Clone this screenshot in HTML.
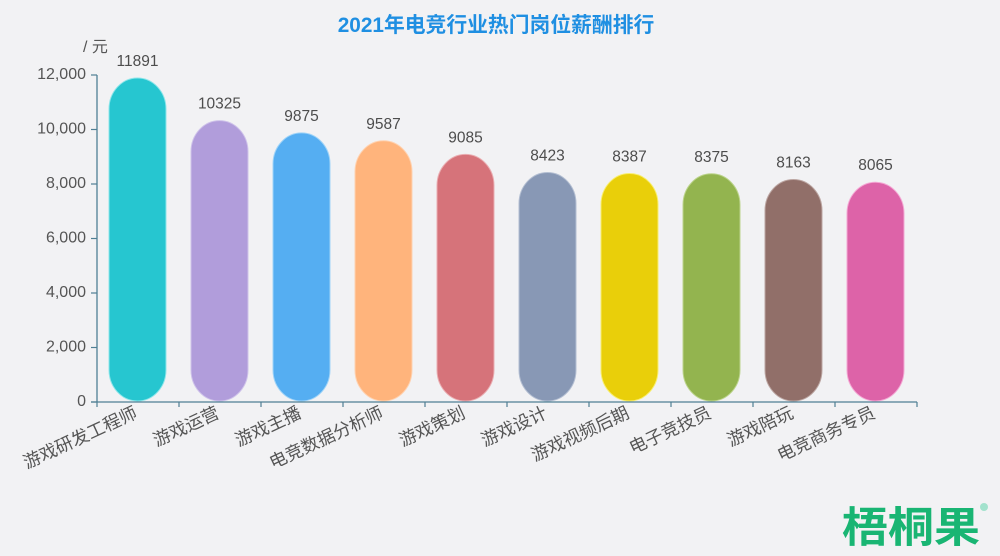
<!DOCTYPE html>
<html lang="zh">
<head>
<meta charset="utf-8">
<title>2021年电竞行业热门岗位薪酬排行</title>
<style>
html,body{margin:0;padding:0;background:#f2f2f4;}
#stage{position:relative;width:1000px;height:556px;overflow:hidden;background:#f2f2f4;}
svg{display:block;font-family:"Liberation Sans","Noto Sans CJK SC",sans-serif;filter:blur(0.35px);}
</style>
</head>
<body>
<div id="stage">
<svg id="chart" width="1000" height="556" viewBox="0 0 1000 556" xmlns="http://www.w3.org/2000/svg">
  <text x="496" y="32" text-anchor="middle" font-size="20.8" font-weight="700" fill="#1f8fe2">2021年电竞行业热门岗位薪酬排行</text>
  <text x="83" y="52" font-size="16" fill="#555">/ 元</text>
  <g id="bars"></g>
  <g id="axes"></g>
  <text x="842" y="542" font-size="42" font-weight="700" fill="#19b573" textLength="138" lengthAdjust="spacingAndGlyphs">梧桐果</text>
  <circle cx="984" cy="507" r="4" fill="#a3e2cd"></circle>
</svg>
</div>
<script>
const categories = ["游戏研发工程师","游戏运营","游戏主播","电竞数据分析师","游戏策划","游戏设计","游戏视频后期","电子竞技员","游戏陪玩","电竞商务专员"];
const salaries = [11891,10325,9875,9587,9085,8423,8387,8375,8163,8065];
const barColors = ["#26c6d0","#b19ddb","#55aef2","#ffb47c","#d6737a","#8898b5","#e9cf0a","#93b44f","#916f69","#dd63a8"];
const edgeColors = ["#8fe6ea","#cfc3ea","#a0d4f8","#ffd2b0","#eaaeb2","#b4bfd2","#f8ee70","#bcd48c","#bca6a2","#f4a8d4"];
const yTicks = [0,2000,4000,6000,8000,10000,12000];
const yTickLabels = ["0","2,000","4,000","6,000","8,000","10,000","12,000"];

const NS = "http://www.w3.org/2000/svg";
const plotLeft = 97, plotRight = 917, plotBottom = 402, plotTop = 75, yMax = 12000;
const barWidth = 57;
const axisColor = "#4f7f94";
const xBand = (plotRight - plotLeft) / categories.length;
const xAxis = i => plotLeft + xBand * i;
const xCenter = i => xAxis(i) + xBand / 2 - 0.5;
const yAxis = v => plotBottom - (v / yMax) * (plotBottom - plotTop);

function make(tag, attrs, parent, text) {
  const el = document.createElementNS(NS, tag);
  for (const k in attrs) el.setAttribute(k, attrs[k]);
  if (text !== undefined) el.textContent = text;
  parent.appendChild(el);
  return el;
}

const barsGroup = document.getElementById("bars");
const axesGroup = document.getElementById("axes");

salaries.forEach((v, i) => {
  const cx = xCenter(i), top = yAxis(v), bottom = plotBottom - 1;
  const bar = make("rect", {
    x: cx - barWidth / 2, y: top, width: barWidth, height: Math.max(0, bottom - top),
    rx: barWidth / 2, ry: 31, fill: barColors[i], stroke: edgeColors[i], "stroke-width": 1
  }, barsGroup);
  
  
  const val = make("text", {
    x: cx, y: top - 12, "text-anchor": "middle", "font-size": 15.5, fill: "#4d4d4d"
  }, barsGroup, String(v));
  
  
});

const yLine = make("line", {x1: plotLeft, y1: plotTop, x2: plotLeft, y2: plotBottom, stroke: axisColor, "stroke-width": 1.3}, axesGroup);


const xLine = make("line", {x1: plotLeft - 6, y1: plotBottom, x2: plotRight, y2: plotBottom, stroke: axisColor, "stroke-width": 1.3}, axesGroup);



yTicks.forEach((t, i) => {
  const y = yAxis(t);
  const tick = make("line", {x1: plotLeft - 6, y1: y, x2: plotLeft, y2: y, stroke: axisColor, "stroke-width": 1.2}, axesGroup);
  
  
  const label = make("text", {x: plotLeft - 11, y: y + 4, "text-anchor": "end", "font-size": 16, fill: "#555"}, axesGroup, yTickLabels[i]);
  
  
});

for (let i = 0; i <= categories.length; i++) {
  const x = xAxis(i);
  const tick = make("line", {x1: x, y1: plotBottom, x2: x, y2: plotBottom + 5, stroke: axisColor, "stroke-width": 1.2}, axesGroup);
  
  
}

categories.forEach((c, i) => {
  const x = xCenter(i) + 1, y = plotBottom + 15;
  const label = make("text", {
    x: x, y: y, "text-anchor": "end", "font-size": 17.6, fill: "#555",
    transform: "rotate(-25 " + x + " " + y + ")"
  }, axesGroup, c);
  
  
});
</script>
</body>
</html>
